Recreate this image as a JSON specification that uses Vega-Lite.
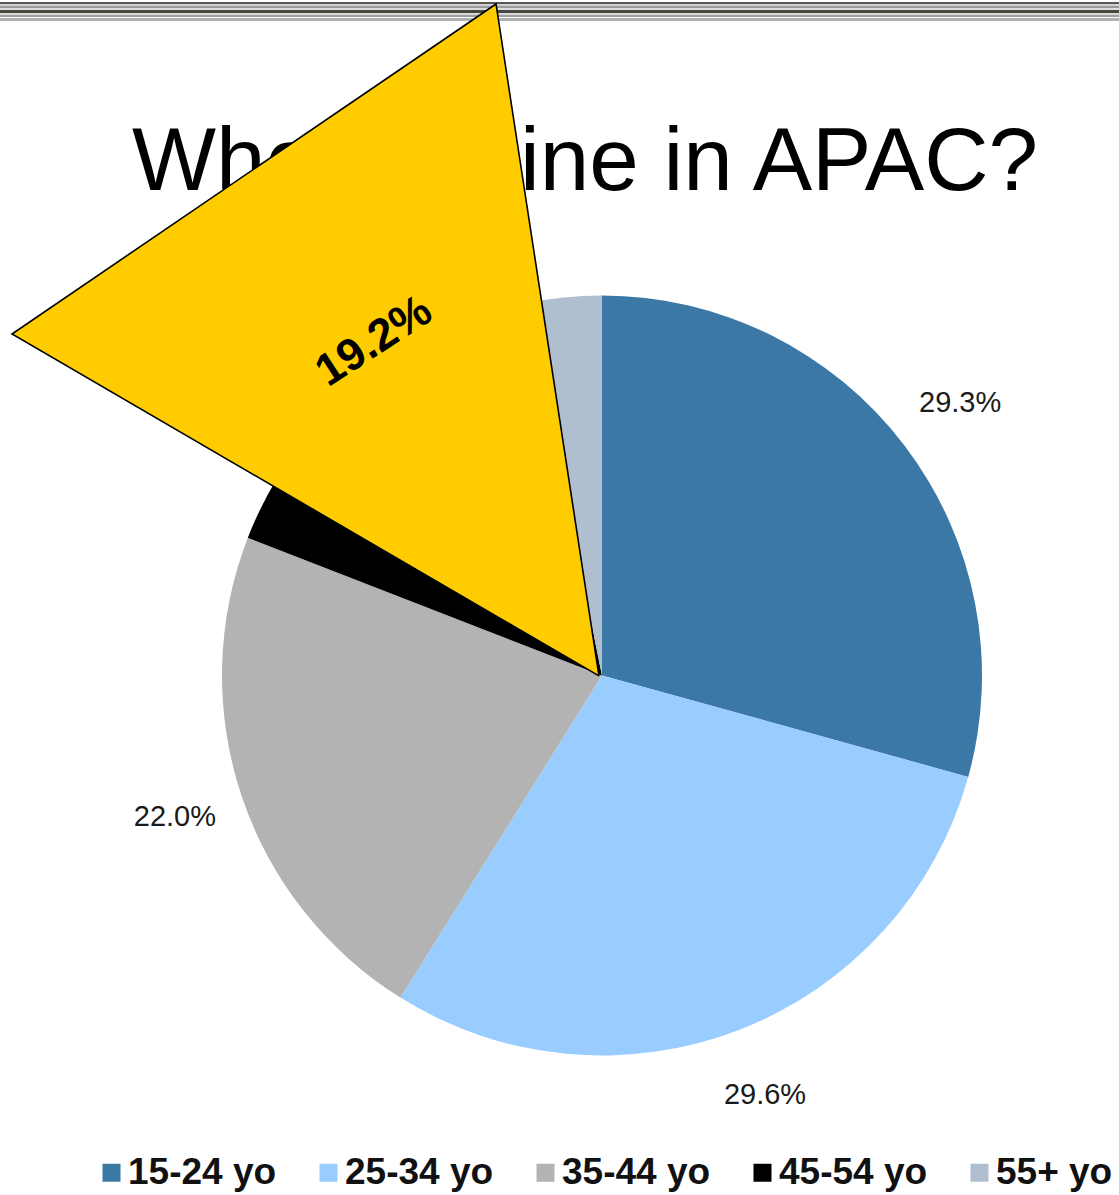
{
  "$schema": "https://vega.github.io/schema/vega-lite/v6.json",
  "width": 1119,
  "height": 1195,
  "autosize": {"type": "none"},
  "padding": 0,
  "background": "white",
  "config": {
    "view": {"stroke": null},
    "legend": {
      "orient": "none",
      "legendX": 93,
      "legendY": 1154,
      "direction": "horizontal",
      "symbolType": "square",
      "symbolSize": 324,
      "symbolStrokeWidth": 0,
      "labelFont": "Liberation Sans",
      "labelFontSize": 37,
      "labelFontWeight": "bold",
      "labelColor": "#111111",
      "labelOffset": -2,
      "labelLimit": 400,
      "columnPadding": 33,
      "padding": 0,
      "title": null
    }
  },
  "layer": [
    {
      "data": {"values": [{"band": "top rule"}]},
      "mark": {
        "type": "rect",
        "color": {
          "gradient": "linear",
          "x1": 0, "y1": 0, "x2": 0, "y2": 1,
          "stops": [
            {"offset": 0, "color": "#5a5650"},
            {"offset": 0.105, "color": "#5a5650"},
            {"offset": 0.106, "color": "#d0d0d0"},
            {"offset": 0.21, "color": "#d0d0d0"},
            {"offset": 0.211, "color": "#9a9a9a"},
            {"offset": 0.316, "color": "#9a9a9a"},
            {"offset": 0.317, "color": "#dcdcdc"},
            {"offset": 0.42, "color": "#dcdcdc"},
            {"offset": 0.421, "color": "#4a4640"},
            {"offset": 0.56, "color": "#4a4640"},
            {"offset": 0.561, "color": "#d8d8d8"},
            {"offset": 0.67, "color": "#d8d8d8"},
            {"offset": 0.671, "color": "#9c9c9c"},
            {"offset": 0.775, "color": "#9c9c9c"},
            {"offset": 0.776, "color": "#ffffff"},
            {"offset": 0.84, "color": "#ffffff"},
            {"offset": 0.841, "color": "#b0b0b0"},
            {"offset": 1, "color": "#b0b0b0"}
          ]
        }
      },
      "encoding": {
        "x": {"datum": -1.58421, "type": "quantitative", "scale": {"domain": [-1.58421, 1.36053], "nice": false, "zero": false}, "axis": null},
        "x2": {"datum": 1.36053},
        "y": {"datum": 1.77237, "type": "quantitative", "scale": {"domain": [-1.36711, 1.77763], "nice": false, "zero": false}, "axis": null},
        "y2": {"datum": 1.72237}
      }
    },
    {
      "data": {"values": [{"title": "Who's online in APAC?"}]},
      "mark": {"type": "text", "font": "Liberation Sans", "fontSize": 89, "align": "center", "baseline": "alphabetic", "color": "#000000"},
      "encoding": {
        "x": {"datum": -0.0447, "type": "quantitative", "axis": null},
        "y": {"datum": 1.2776, "type": "quantitative", "axis": null},
        "text": {"field": "title"}
      }
    },
    {
      "data": {
        "values": [
          {"age": "15-24 yo", "share": 29.3, "idx": 1, "label": "29.3%"},
          {"age": "25-34 yo", "share": 29.6, "idx": 2, "label": "29.6%"},
          {"age": "35-44 yo", "share": 22.0, "idx": 3, "label": "22.0%"},
          {"age": "45-54 yo", "share": 15.9, "idx": 4, "label": ""},
          {"age": "55+ yo", "share": 3.2, "idx": 5, "label": ""}
        ]
      },
      "encoding": {
        "theta": {"field": "share", "type": "quantitative", "stack": true},
        "order": {"field": "idx", "type": "quantitative"},
        "x": {"datum": 0, "type": "quantitative", "axis": null},
        "y": {"datum": 0, "type": "quantitative", "axis": null}
      },
      "layer": [
        {
          "mark": {"type": "arc", "outerRadius": 380},
          "encoding": {
            "color": {
              "field": "age", "type": "nominal",
              "scale": {"domain": ["15-24 yo", "25-34 yo", "35-44 yo", "45-54 yo", "55+ yo"], "range": ["#3b78a5", "#99ccff", "#b3b3b3", "#000000", "#b0bfd0"]},
              "legend": {"title": null}
            }
          }
        },
        {
          "mark": {"type": "text", "radius": 450, "font": "Liberation Sans", "fontSize": 29, "color": "#1a1a1a", "align": "center", "baseline": "middle"},
          "encoding": {
            "detail": {"field": "age", "type": "nominal"},
            "text": {"field": "label"}
          }
        }
      ]
    },
    {
      "data": {
        "values": [
          {"px": -0.008, "py": -0.001, "k": 0},
          {"px": -1.5526, "py": 0.8987, "k": 1},
          {"px": -0.2789, "py": 1.7671, "k": 2},
          {"px": -0.008, "py": -0.001, "k": 3}
        ]
      },
      "mark": {"type": "line", "fill": "#ffcc00", "stroke": "#000000", "strokeWidth": 1.6},
      "encoding": {
        "x": {"field": "px", "type": "quantitative", "axis": null},
        "y": {"field": "py", "type": "quantitative", "axis": null},
        "order": {"field": "k", "type": "quantitative"}
      }
    },
    {
      "data": {"values": [{"label": "19.2%"}]},
      "mark": {"type": "text", "font": "Liberation Sans", "fontSize": 45, "fontWeight": "bold", "angle": 327, "align": "center", "baseline": "middle", "color": "#000000"},
      "encoding": {
        "x": {"datum": -0.6, "type": "quantitative", "axis": null},
        "y": {"datum": 0.88, "type": "quantitative", "axis": null},
        "text": {"field": "label"}
      }
    }
  ]
}
